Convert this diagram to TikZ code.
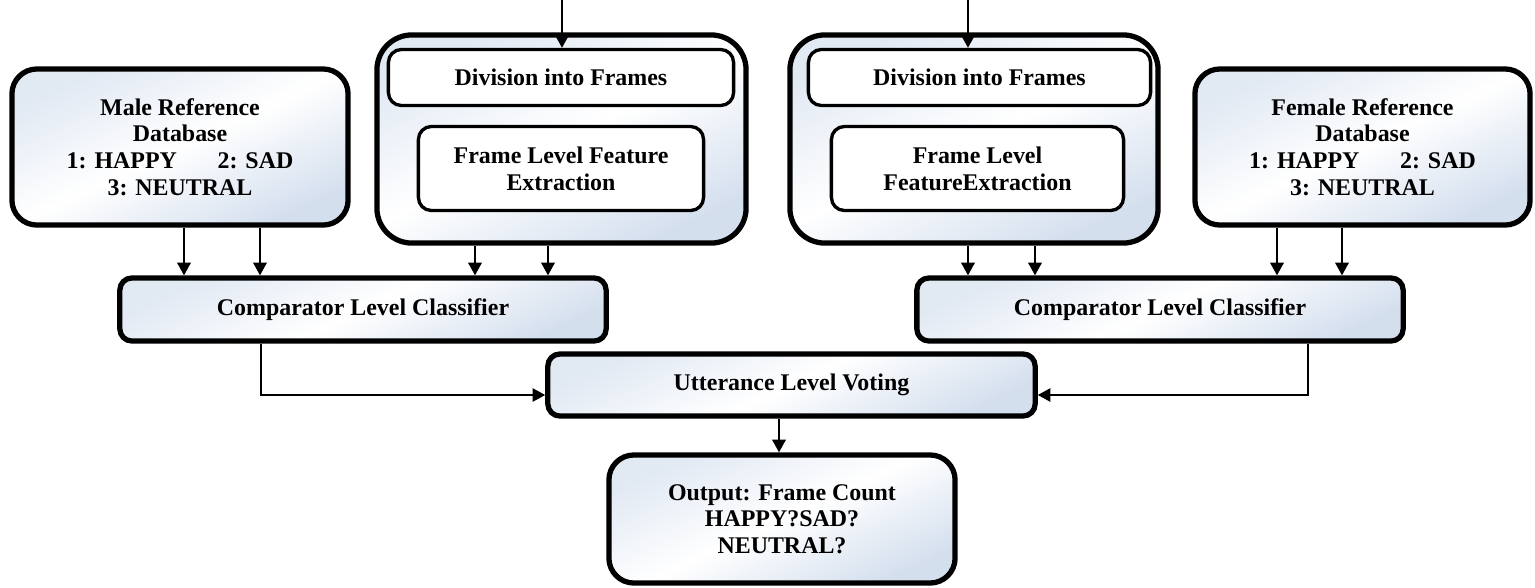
\documentclass[tikz,border=0pt]{standalone}
\usepackage{fontspec}
\setmainfont{Liberation Serif}
\usetikzlibrary{arrows.meta,calc}
\definecolor{shb}{RGB}{212,223,238}
\begin{document}
\begin{tikzpicture}[x=0.01cm,y=-0.01cm,
  txt/.style={align=center, font=\bfseries\fontsize{6.8}{7.6}\selectfont, inner sep=0pt, text=black},
  box/.style={txt, draw, rounded corners=#1, line width=1.5pt,
    top color=shb!70!white, bottom color=shb, middle color=white, shading angle=25},
  box/.default=0.22cm,
  inbox/.style={txt, draw, fill=white, rounded corners=0.13cm, line width=0.95pt},
  arr/.style={-{Triangle[length=3.6pt,width=3.8pt]}, line width=0.65pt},
  arrthin/.style={-{Triangle[length=3.6pt,width=3.8pt]}, line width=0.45pt}
]
\useasboundingbox (0,0) rectangle (1535,587);

% reference databases
\node[box=0.25cm, minimum width=3.36cm, minimum height=1.56cm] (male) at (180,147)
  {Male Reference\\Database\\1: HAPPY\hspace{1.7em}2: SAD\\3: NEUTRAL};
\node[box=0.25cm, minimum width=3.35cm, minimum height=1.56cm] (female) at (1362.5,147)
  {Female Reference\\Database\\1: HAPPY\hspace{1.7em}2: SAD\\3: NEUTRAL};

% groups
\node[box=0.35cm, minimum width=3.69cm, minimum height=2.08cm] (grpL) at (561.5,139) {};
\node[inbox, minimum width=3.45cm, minimum height=0.56cm] (divL) at (561,77.5) {Division into Frames};
\node[inbox, minimum width=2.85cm, minimum height=0.84cm] (felL) at (561,168.5) {Frame Level Feature\\Extraction};

\node[box=0.35cm, minimum width=3.68cm, minimum height=2.08cm] (grpR) at (974,139) {};
\node[inbox, minimum width=3.42cm, minimum height=0.56cm] (divR) at (979.5,77.5) {Division into Frames};
\node[inbox, minimum width=2.92cm, minimum height=0.84cm] (felR) at (977.5,168.5) {Frame Level\\FeatureExtraction};

% classifiers
\node[box=0.12cm, minimum width=4.86cm, minimum height=0.63cm] (compL) at (363,309.5) {Comparator Level Classifier};
\node[box=0.12cm, minimum width=4.86cm, minimum height=0.63cm] (compR) at (1160,309.5) {Comparator Level Classifier};

\node[box=0.12cm, minimum width=4.87cm, minimum height=0.62cm] (utt) at (791.5,385) {Utterance Level Voting};
\node[box=0.25cm, minimum width=3.46cm, minimum height=1.28cm] (out) at (782,519)
  {Output: Frame Count\\HAPPY?SAD?\\NEUTRAL?};

% inputs
\coordinate (inL) at (562,0);
\coordinate (inR) at (968,0);
\draw[arr] (inL) -- (divL.north -| inL);
\draw[arr] (inR) -- (divR.north -| inR);

% to classifiers
\draw[arr] (male.south -| 184,0) -- (compL.north -| 184,0);
\draw[arr] (male.south -| 260,0) -- (compL.north -| 260,0);
\draw[arr] (grpL.south -| 475,0) -- (compL.north -| 475,0);
\draw[arr] (grpL.south -| 548,0) -- (compL.north -| 548,0);
\draw[arr] (grpR.south -| 968,0) -- (compR.north -| 968,0);
\draw[arr] (grpR.south -| 1035,0) -- (compR.north -| 1035,0);
\draw[arr] (female.south -| 1277,0) -- (compR.north -| 1277,0);
\draw[arr] (female.south -| 1342,0) -- (compR.north -| 1342,0);

% to voting
\draw[arrthin] (compL.south -| 261,0) |- (utt.west |- 0,395);
\draw[arrthin] (compR.south -| 1308,0) |- (utt.east |- 0,395);

% to output
\draw[arr] (utt.south -| 779,0) -- (out.north -| 779,0);
\end{tikzpicture}
\end{document}
